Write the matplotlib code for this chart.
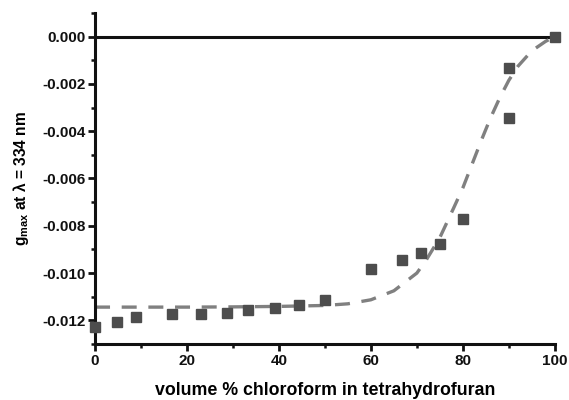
import matplotlib
matplotlib.use("Agg")
import matplotlib.pyplot as plt
from matplotlib.ticker import MultipleLocator, FormatStrFormatter

# measured data (squares)
vol_pct = [0, 4.7, 9, 16.7, 23.1, 28.6, 33.3, 39.1, 44.4, 50, 60, 66.7, 71, 75, 80, 90, 90, 100]
g_max = [-0.01226, -0.01207, -0.01186, -0.01175, -0.01175, -0.01169, -0.01158, -0.01146,
         -0.01134, -0.01115, -0.00981, -0.00944, -0.00913, -0.00879, -0.00772, -0.00133,
         -0.00345, 0.0]

# fitted curve (dashed)
fit_x = [0, 10, 20, 30, 40, 50, 55, 60, 65, 70, 72, 75, 78, 80, 82, 84, 86, 88, 90, 92, 95, 98, 100]
fit_y = [-0.01144, -0.01144, -0.01144, -0.01143, -0.01141, -0.01137, -0.01130, -0.01113,
         -0.01075, -0.01000, -0.00946, -0.00850, -0.00725, -0.00640, -0.00540, -0.00440,
         -0.00345, -0.00260, -0.00185, -0.00125, -0.00060, -0.00020, 0.0]

plt.rcParams['font.family'] = ['Liberation Sans', 'DejaVu Sans']
plt.rcParams['font.weight'] = 'bold'

fig = plt.figure(figsize=(5.69, 4.0), dpi=100)
ax = fig.add_axes([0.167, 0.14, 0.808, 0.8275])

ax.axhline(0, xmin=0, xmax=1, color='#111111', lw=2.2, zorder=1)
ax.plot(fit_x, fit_y, color='#808080', lw=2.4, dashes=(4.5, 3.5), zorder=2)
ax.plot(vol_pct, g_max, ls='none', marker='s', ms=7.5, color='#4d4d4d', zorder=3, clip_on=False)

ax.set_xlim(0, 100)
ax.set_ylim(-0.013, 0.001)
ax.xaxis.set_major_locator(MultipleLocator(20))
ax.xaxis.set_minor_locator(MultipleLocator(10))
ax.yaxis.set_minor_locator(MultipleLocator(0.001))
ax.yaxis.set_major_formatter(FormatStrFormatter('%.3f'))
ax.set_yticks([0.0, -0.002, -0.004, -0.006, -0.008, -0.010, -0.012])

for s in ['top', 'right']:
    ax.spines[s].set_visible(False)
for s in ['left', 'bottom']:
    ax.spines[s].set_linewidth(2.2)
    ax.spines[s].set_color('#111111')

ax.tick_params(which='major', direction='out', length=5, width=2, colors='#111111',
               labelsize=11, pad=2)
ax.tick_params(which='minor', direction='out', length=3, width=1.8, colors='#111111')

ax.set_xlabel('volume % chloroform in tetrahydrofuran', fontsize=12.8, fontweight='bold',
              labelpad=10)
ax.set_ylabel('g$_{\\mathregular{max}}$ at λ = 334 nm', fontsize=11.2,
              fontweight='bold', labelpad=8)

fig.savefig('out.png', dpi=100)
